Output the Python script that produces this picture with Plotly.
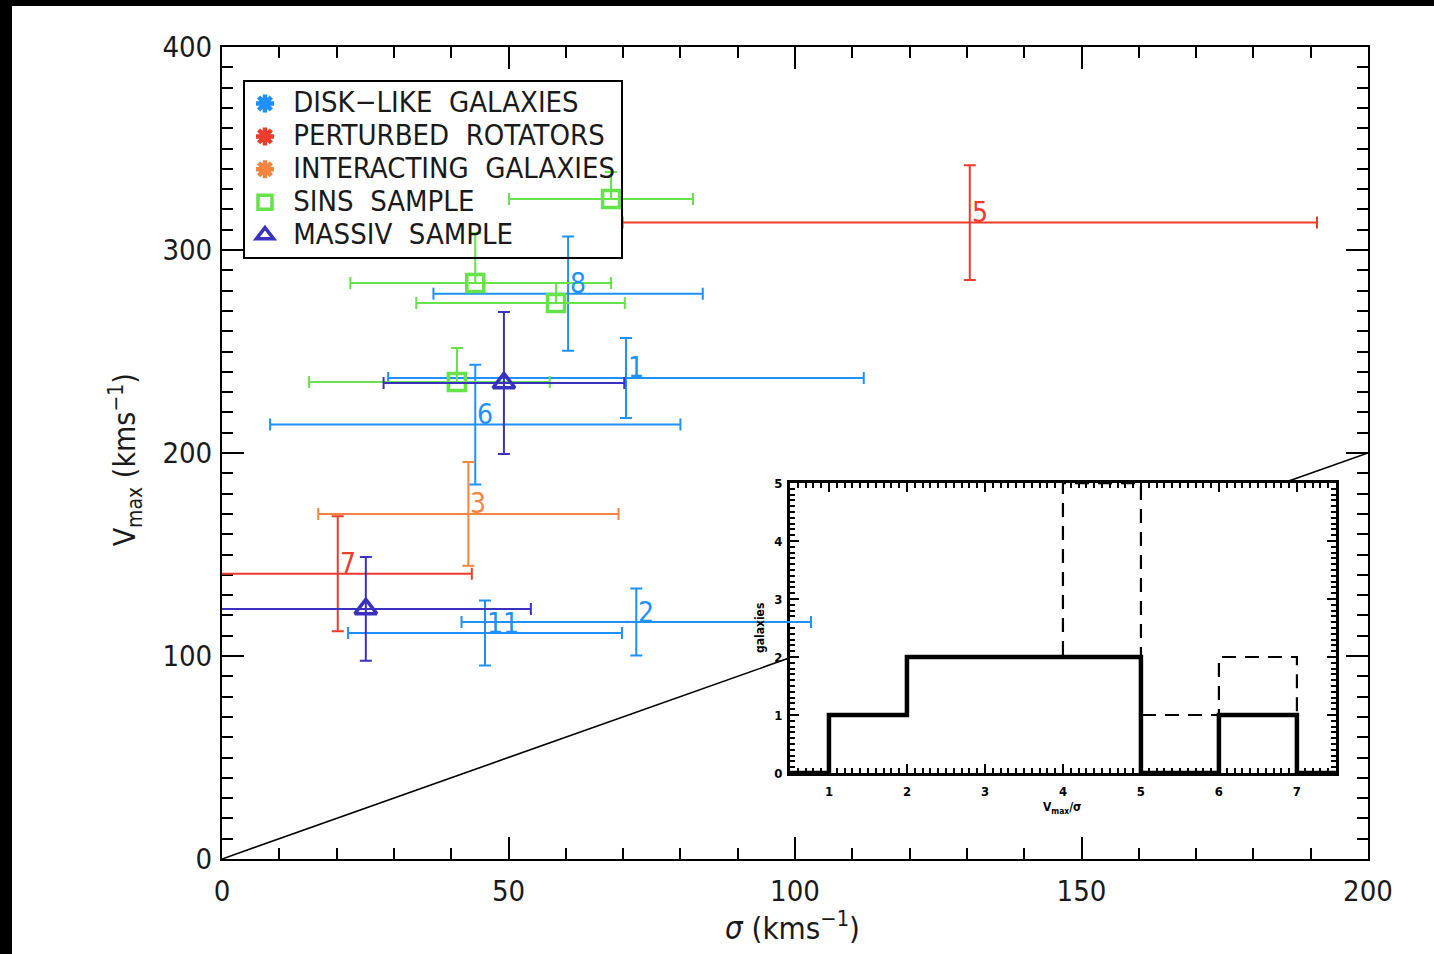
import plotly.graph_objects as go

FONT = "DejaVu Sans Condensed, DejaVu Sans, sans-serif"

BLUE = "#1E90FF"
RED = "#EE3B2B"
ORANGE = "#F5843F"
GREEN = "#66E34A"
PURPLE = "#3A32BE"

# Disk-like galaxies (label, sigma, Vmax and their errors, km/s)
disk_id = ["1", "2", "6", "8", "11"]
disk_sigma = [70.5, 72.3, 44.2, 60.4, 45.9]
disk_sigma_err = [41.5, 30.5, 35.8, 23.5, 23.9]
disk_vmax = [237.0, 116.7, 214.0, 278.5, 111.3]
disk_vmax_err = [19.7, 16.5, 29.5, 28.1, 16.0]

# Perturbed rotators
pert_id = ["5", "7"]
pert_sigma = [130.5, 20.2]
pert_sigma_err = [60.6, 23.4]
pert_vmax = [313.5, 140.5]
pert_vmax_err = [28.3, 28.3]

# Interacting galaxies
inter_id = ["3"]
inter_sigma = [43.0]
inter_sigma_err = [26.2]
inter_vmax = [170.0]
inter_vmax_err = [25.6]

# SINS sample (asymmetric errors)
sins_sigma = [67.9, 44.2, 58.3, 41.0]
sins_sigma_minus = [17.8, 21.8, 24.4, 25.8]
sins_sigma_plus = [14.3, 23.7, 12.0, 16.2]
sins_vmax = [325.1, 283.7, 273.9, 235.0]
sins_vmax_plus = [13.3, 24.6, 9.9, 16.7]
sins_vmax_minus = [0.0, 0.0, 0.0, 0.0]

# MASSIV sample
massiv_sigma = [49.2, 25.1]
massiv_sigma_err = [21.0, 28.8]
massiv_vmax = [234.5, 123.2]
massiv_vmax_err = [35.0, 25.6]

# Vmax = sigma reference line
one_to_one = [0, 200]

# Inset histogram of Vmax/sigma
hist_edges = [0.5, 1, 2, 3, 4, 5, 6, 7, 7.5]
hist_solid = [0, 1, 2, 2, 2, 0, 1, 0]
hist_dashed = [0, 1, 2, 2, 5, 1, 2, 0]
INSET_XRANGE = [0.5, 7.5]
INSET_YRANGE = [0, 5]

legend_names = ["DISK−LIKE GALAXIES", "PERTURBED ROTATORS", "INTERACTING GALAXIES",
                "SINS SAMPLE", "MASSIV SAMPLE"]

fig = go.Figure()

# one-to-one line on the base axes (covered by the inset panel)
fig.add_trace(go.Scatter(x=one_to_one, y=one_to_one, mode="lines",
                         line=dict(color="black", width=1.6),
                         xaxis="x", yaxis="y", showlegend=False, hoverinfo="skip"))

# inset histogram
fig.add_trace(go.Scatter(x=hist_edges, y=hist_dashed + [hist_dashed[-1]], mode="lines",
                         line=dict(color="black", width=2.2, dash="14px,9px", shape="hv"),
                         xaxis="x2", yaxis="y2", showlegend=False))
fig.add_trace(go.Scatter(x=hist_edges, y=hist_solid + [hist_solid[-1]], mode="lines",
                         line=dict(color="black", width=4.5, shape="hv"),
                         xaxis="x2", yaxis="y2", showlegend=False))


def err(arr, color, minus=None):
    d = dict(type="data", array=arr, color=color, thickness=2, width=6, symmetric=minus is None)
    if minus is not None:
        d["arrayminus"] = minus
    return d


LABEL_SIZE = 28
annotations = []

for ids, sx, sxe, vy, vye, col in [
    (disk_id, disk_sigma, disk_sigma_err, disk_vmax, disk_vmax_err, BLUE),
    (pert_id, pert_sigma, pert_sigma_err, pert_vmax, pert_vmax_err, RED),
    (inter_id, inter_sigma, inter_sigma_err, inter_vmax, inter_vmax_err, ORANGE),
]:
    fig.add_trace(go.Scatter(x=sx, y=vy, mode="markers",
                             marker=dict(size=1, color=col, opacity=0),
                             error_x=err(sxe, col), error_y=err(vye, col),
                             xaxis="x3", yaxis="y3", showlegend=False))
    # galaxy numbers written just right of / above each point
    for gid, gx, gy in zip(ids, sx, vy):
        annotations.append(dict(text=gid, x=gx, y=gy, xref="x3", yref="y3",
                                xanchor="left", yanchor="middle", xshift=0, yshift=10,
                                showarrow=False,
                                font=dict(family=FONT, size=LABEL_SIZE, color=col)))

fig.add_trace(go.Scatter(x=sins_sigma, y=sins_vmax, mode="markers",
                         marker=dict(symbol="square-open", size=17, color=GREEN,
                                     line=dict(width=3.5, color=GREEN)),
                         error_x=err(sins_sigma_plus, GREEN, sins_sigma_minus),
                         error_y=err(sins_vmax_plus, GREEN, sins_vmax_minus),
                         xaxis="x3", yaxis="y3", showlegend=False))

fig.add_trace(go.Scatter(x=massiv_sigma, y=massiv_vmax, mode="markers",
                         marker=dict(symbol="triangle-up-open", size=19, color=PURPLE,
                                     line=dict(width=3.5, color=PURPLE)),
                         error_x=err(massiv_sigma_err, PURPLE),
                         error_y=err(massiv_vmax_err, PURPLE),
                         xaxis="x3", yaxis="y3", showlegend=False))

# legend entries
legend_markers = [
    dict(symbol="asterisk-open", size=15, color=BLUE, line=dict(width=4.5, color=BLUE)),
    dict(symbol="asterisk-open", size=15, color=RED, line=dict(width=4.5, color=RED)),
    dict(symbol="asterisk-open", size=15, color=ORANGE, line=dict(width=4.5, color=ORANGE)),
    dict(symbol="square-open", size=14, color=GREEN, line=dict(width=3.5, color=GREEN)),
    dict(symbol="triangle-up-open", size=15, color=PURPLE, line=dict(width=3.5, color=PURPLE)),
]
for name, mk in zip(legend_names, legend_markers):
    spaced = "\u00a0" + name.replace(" ", "\u00a0 ")
    fig.add_trace(go.Scatter(x=[None], y=[None], mode="markers", marker=mk,
                             name='<span style="font-size:29px">' + spaced + "</span>",
                             xaxis="x", yaxis="y"))

tickfont = dict(family=FONT, size=29, color="#1a1a1a")
main_axis = dict(showline=True, linewidth=2, linecolor="black", mirror="ticks",
                 ticks="inside", ticklen=22, tickwidth=2, tickcolor="black",
                 showgrid=False, zeroline=False, tickfont=tickfont)

inset_font = dict(family=FONT, size=13, color="black", weight="bold")
inset_axis = dict(showline=True, linewidth=3, linecolor="black", mirror="ticks",
                  ticks="inside", ticklen=9, tickwidth=2, tickcolor="black",
                  showgrid=False, zeroline=False, tickfont=inset_font)

annotations += [
    dict(text="<i>σ</i> (kms<sup>−1</sup>)", xref="paper", yref="paper",
         x=0.498, y=-0.083, xanchor="center", yanchor="middle", showarrow=False,
         font=dict(family=FONT, size=31, color="#1a1a1a")),
    dict(text="V<sub>max</sub> (kms<sup>−1</sup>)", xref="paper", yref="paper",
         x=-0.0846, y=0.491, xanchor="center", yanchor="middle", showarrow=False,
         textangle=-90, font=dict(family=FONT, size=30, color="#1a1a1a")),
    dict(text="V<sub>max</sub>/σ", xref="paper", yref="paper",
         x=0.733, y=0.0628, xanchor="center", yanchor="middle", showarrow=False,
         font=dict(family=FONT, size=12, color="black", weight="bold")),
    dict(text="galaxies", xref="paper", yref="paper",
         x=0.4695, y=0.2845, xanchor="center", yanchor="middle", showarrow=False,
         textangle=-90, font=dict(family=FONT, size=12, color="black", weight="bold")),
]

fig.update_layout(
    width=1434, height=954,
    margin=dict(l=222, r=66, t=47, b=95),
    paper_bgcolor="white",
    plot_bgcolor="rgba(255,255,255,0)",
    xaxis=dict(domain=[0, 1], range=[0, 200], tickvals=[0, 50, 100, 150, 200],
               minor=dict(dtick=10, ticklen=11, tickwidth=2, tickcolor="black", ticks="inside"),
               ticklabelstandoff=5, **main_axis),
    yaxis=dict(domain=[0, 1], range=[0, 400], tickvals=[0, 100, 200, 300, 400],
               minor=dict(dtick=10, ticklen=11, tickwidth=2, tickcolor="black", ticks="inside"),
               ticklabelstandoff=2, **main_axis),
    xaxis2=dict(domain=[0.4956, 0.972], anchor="y2", range=INSET_XRANGE,
                tickvals=[1, 2, 3, 4, 5, 6, 7],
                minor=dict(dtick=0.1, tick0=0, ticklen=5, tickwidth=1.5, tickcolor="black", ticks="inside"),
                ticklabelstandoff=4, **inset_axis),
    yaxis2=dict(domain=[0.1059, 0.463], anchor="x2", range=INSET_YRANGE,
                tickvals=[0, 1, 2, 3, 4, 5],
                minor=dict(dtick=0.1, tick0=0, ticklen=5, tickwidth=1.5, tickcolor="black", ticks="inside"),
                ticklabelstandoff=2, **inset_axis),
    xaxis3=dict(domain=[0, 1], anchor="y3", range=[0, 200], visible=False),
    yaxis3=dict(domain=[0, 1], anchor="x3", range=[0, 400], visible=False),
    legend=dict(x=0.0183, y=0.9593, xanchor="left", yanchor="top",
                bgcolor="rgba(0,0,0,0)", bordercolor="black", borderwidth=2,
                font=dict(family=FONT, size=23, color="#1a1a1a"),
                itemsizing="trace"),
    shapes=[
        # white inset panel
        dict(type="rect", xref="x2", yref="y2",
             x0=INSET_XRANGE[0], x1=INSET_XRANGE[1], y0=INSET_YRANGE[0], y1=INSET_YRANGE[1],
             fillcolor="white", line=dict(width=0), layer="below"),
        # dark frame along the left and top edges
        dict(type="rect", xref="paper", yref="paper", x0=-0.2, x1=-0.18325, y0=-0.2, y1=1.1,
             fillcolor="black", line=dict(width=0), layer="above"),
        dict(type="rect", xref="paper", yref="paper", x0=-0.2, x1=1.1, y0=1.0505, y1=1.1,
             fillcolor="black", line=dict(width=0), layer="above"),
    ],
    annotations=annotations,
)

fig.write_html("out.html")
